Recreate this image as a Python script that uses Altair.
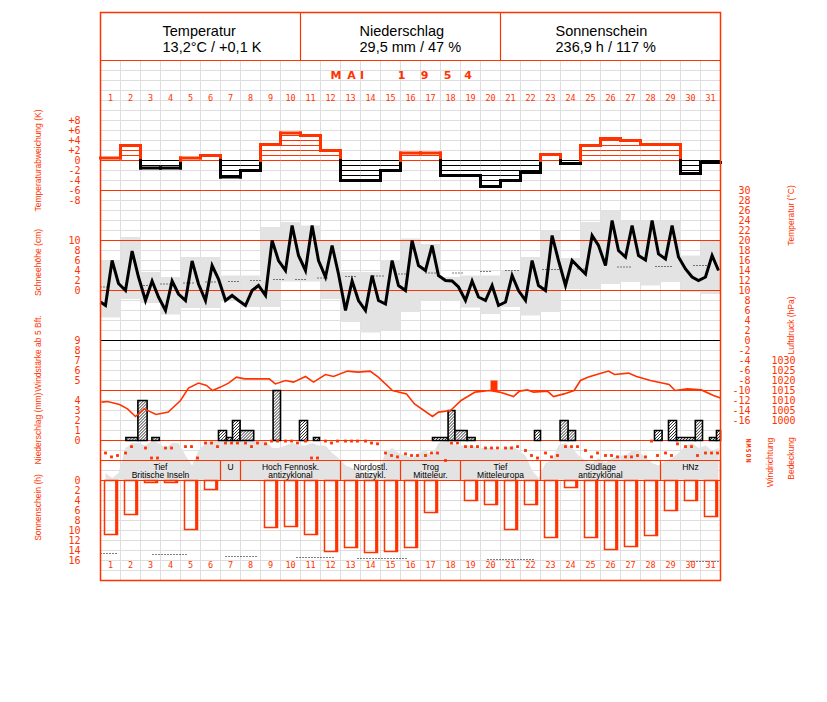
import altair as alt
import pandas as pd

RED = "#ff3300"
GRID = "#dedede"
SHADE = "#e3e3e3"
SANS = "Liberation Sans, Arial, sans-serif"
NARROW = "Liberation Sans Narrow, Liberation Sans, sans-serif"
MONO = "DejaVu Sans Mono, Liberation Mono, monospace"

# ---------------- data ----------------
days = list(range(1, 32))

header_titles = ["Temperatur", "Niederschlag", "Sonnenschein"]
header_values = ["13,2°C / +0,1 K", "29,5 mm / 47 %", "236,9 h / 117 %"]
month_chars = ["M", "A", "I", "1", "9", "5", "4"]

# daily temperature anomaly (K)
anomaly = [0.5, 3.0, -1.5, -1.5, 0.5, 1.0, -3.3, -2.0, 3.2, 5.5, 5.0, 2.0, -4.0, -4.0, -2.0, 1.5,
           1.5, -3.0, -3.0, -5.2, -4.0, -2.4, 1.2, -0.6, 3.0, 4.4, 4.0, 3.2, 3.2, -2.6, -0.4]

# temperature at the three observation times (°C)
temp_start = 7.7
temp_7h = [7, 10, 8, 6, 8, 8, 8, 7, 9, 14, 14, 12.7, 6, 6, 7.3, 10, 14, 12, 8, 8, 7.7, 8, 10, 11,
           13.3, 15, 16.7, 16.1, 16.3, 14.3, 12.7]
temp_14h = [16, 17.9, 11.9, 11.9, 15.9, 15, 9, 10, 20, 23, 23, 19, 11.9, 13, 16, 20, 19, 11.9, 11.9,
            11, 13, 16, 21, 16, 21, 24, 23, 24, 23, 12.7, 17]
temp_21h = [11.4, 12.7, 8.7, 9.3, 11.3, 12.3, 8, 11, 16, 17, 16, 13.3, 8, 8, 11, 15, 13, 10.7, 8.7,
            7, 10, 11, 16, 14.7, 19, 18, 17, 17.3, 16.7, 12, 14]
# daily min / max (grey boxes)
tmin = [4.6, 8.3, 7.5, 5.2, 6.5, 6.5, 8.0, 6.7, 6.7, 11.8, 11.8, 8.3, 3.7, 1.6, 2.0, 5.7, 8.0, 8.0,
        6.6, 5.3, 6.7, 5.0, 5.7, 10.3, 10.3, 11.3, 11.7, 11.0, 11.7, 9.7, 9.3]
tmax = [16.0, 20.7, 13.7, 12.7, 16.7, 16.7, 13.0, 13.0, 22.7, 23.7, 23.0, 20.0, 13.7, 13.7, 16.1,
        20.4, 19.3, 12.7, 13.0, 13.0, 14.0, 16.7, 22.0, 16.5, 23.7, 26.0, 24.0, 24.0, 24.0, 17.0, 20.0]
# dotted normal temperature
norm_t0 = [0.0, 2.0, 3.0, 4.15, 5.25, 6.4, 7.5, 8.65, 9.75, 10.85, 12.25, 13.65, 14.9, 16.25, 17.6,
           19.0, 20.25, 22.1, 23.85, 25.85, 27.75, 29.65]
norm_t1 = [0.4, 2.5, 3.5, 4.65, 5.75, 6.9, 8.0, 9.15, 10.25, 11.35, 12.75, 14.15, 15.5, 16.75, 18.15,
           19.5, 21.0, 22.9, 24.35, 26.5, 28.6, 30.4]
norm_T = [10.7, 11.0, 11.3, 11.5, 11.7, 11.8, 12.0, 12.2, 12.2, 12.5, 12.8, 12.9, 13.3, 13.5, 13.5,
          13.8, 14.0, 14.2, 14.3, 14.7, 14.8, 15.0]

# air pressure (hPa)
pres_t = [0.05, 0.35, 0.95, 1.35, 1.75, 2.18, 2.78, 3.39, 4.0, 4.4, 4.9, 5.3, 5.6, 6.0, 6.4, 6.8, 7.2,
          8.44, 8.74, 9.25, 9.65, 10.25, 10.65, 11.25, 11.65, 12.35, 12.88, 13.48, 13.89, 14.6, 15.3,
          15.7, 16.6, 16.9, 17.5, 18.03, 18.73, 19.45, 19.95, 20.65, 20.95, 21.35, 21.65, 22.35, 22.65,
          23.18, 23.68, 24.0, 24.4, 24.9, 25.4, 25.7, 26.4, 26.8, 27.5, 28.43, 28.73, 29.34, 30.04,
          30.65, 31.0]
pres_hpa = [1009.2, 1009.5, 1008, 1005.8, 1002, 1005.8, 1003, 1004.2, 1010, 1016.2, 1018.7, 1017.5,
            1015, 1016.7, 1018.7, 1021.7, 1020.8, 1020.8, 1018.3, 1020, 1019.2, 1022, 1019.2, 1023,
            1022, 1024.7, 1024.2, 1024.7, 1021.7, 1015, 1013.3, 1008.3, 1002, 1004.2, 1005, 1010,
            1014.2, 1015, 1014.2, 1012, 1014.7, 1015.3, 1014.2, 1014.7, 1012, 1013.3, 1015, 1020,
            1021.7, 1023.3, 1024.7, 1023, 1023.7, 1022, 1020, 1018, 1015, 1015.8, 1015.3, 1012.5,
            1011.2]

# wind force >= 5 Bft
wind_t0 = [19.5]
wind_t1 = [19.85]
wind_bft = [5]

# precipitation periods (day units) and amount (mm)
prec_t0 = [1.27, 1.87, 2.57, 5.9, 6.3, 6.6, 6.98, 8.63, 9.95, 10.65, 16.6, 17.38, 17.72, 18.33, 21.7,
           22.98, 23.38, 27.7, 28.4, 28.8, 29.74, 30.45, 30.8]
prec_t1 = [1.87, 2.33, 2.94, 6.3, 6.6, 6.98, 7.66, 9.0, 10.35, 10.95, 17.38, 17.72, 18.33, 18.73, 22.0,
           23.38, 23.75, 28.08, 28.8, 29.74, 30.1, 30.8, 31.0]
prec_mm = [0.3, 4.0, 0.3, 1.0, 0.3, 2.0, 1.0, 5.0, 2.0, 0.3, 0.3, 3.0, 1.0, 0.3, 1.0, 2.0, 1.0, 1.0,
           2.0, 0.3, 2.0, 0.3, 1.0]

# wind direction (degrees) at the three observation times, None = calm
wdir_7h = [135, 135, 225, 225, 250, 315, 315, 315, 300, 350, 350, 350, 350, 350, 135, 120, 90, 0, 250,
           225, 225, 180, 135, 250, 180, 90, 65, 65, 135, 250, 135]
wdir_14h = [65, 250, 45, 225, 250, 315, 315, 250, 350, 350, 45, 315, 350, 315, 90, 90, 135, 315, 250,
            225, 225, 90, 65, 250, 65, 90, 65, 350, 90, 250, 135]
wdir_21h = [90, None, 45, None, 45, 250, 315, 315, 350, 315, 45, 350, 350, 300, 65, 90, 135, 315, 250,
            225, 250, 45, 90, 250, 135, 65, 90, 90, 300, 90, 135]

# cloud cover (octas) at the three observation times
cloud_7h = [1.5, 6.5, 7, 6.5, 5, 7.5, 8, 8, 8, 7, 7, 7, 3, 1.5, 5.5, 5, 6, 8, 7, 6.5, 6.5, 5, 3.5,
            7.5, 4, 3.5, 5, 4.5, 4, 7, 7]
cloud_14h = [0.5, 7.5, 8, 7.5, 3, 8, 8, 8, 6.5, 7.5, 7.5, 5.5, 2.5, 1.5, 6.5, 4.5, 5, 7.5, 7, 6.5, 7,
             2, 4, 6.5, 3.5, 4.5, 6, 3.5, 4.5, 7.5, 6]
cloud_21h = [1.5, 7.5, 7.5, 7.5, 6, 8, 8, 8, 6.5, 7, 7, 4.5, 2, 2, 5.5, 5.5, 7.5, 7, 6.5, 6, 6, 0.5,
             7, 5, 4.5, 5, 6, 3, 5.5, 6.5, 6.5]

# sunshine duration (h)
sunshine = [10.8, 6.8, 0.4, 0.4, 9.8, 1.8, 0, 0, 9.4, 9.2, 10.8, 14.2, 13.4, 14.4, 14.2, 13.4, 6.4, 0,
            4.0, 4.8, 9.8, 4.8, 11.4, 1.4, 11.4, 13.8, 13.2, 11.0, 6.0, 4.0, 7.2]
sun_pos_t0 = [0.0, 2.6, 6.25, 9.8, 12.85, 19.35, 29.5]
sun_pos_t1 = [0.9, 4.3, 7.9, 11.75, 15.4, 21.75, 31.0]
sun_pos_h = [14.6, 14.8, 15.2, 15.4, 15.6, 15.8, 16.2]

# weather patterns
pat_start = [0, 6, 7, 12, 15, 18, 22, 28]
pat_end = [6, 7, 12, 15, 18, 22, 28, 31]
pat_line1 = ["Tief", "U", "Hoch Fennosk.", "Nordostl.", "Trog", "Tief", "Südlage", "HNz"]
pat_line2 = ["Britische Inseln", "", "antizyklonal", "antizykl.", "Mitteleur.", "Mitteleuropa",
             "antizyklonal", ""]

# tick labels
anom_ticks = [8, 6, 4, 2, 0, -2, -4, -6, -8]
anom_labels = ["+8", "+6", "+4", "+2", "0", "-2", "-4", "-6", "-8"]
snow_ticks = [10, 8, 6, 4, 2, 0]
wind_ticks = [9, 8, 7, 6, 5]
prec_ticks = [4, 3, 2, 1, 0]
sun_ticks = [0, 2, 4, 6, 8, 10, 12, 14, 16]
temp_ticks = [30, 28, 26, 24, 22, 20, 18, 16, 14, 12, 10, 8, 6, 4, 2, 0, -2, -4, -6, -8, -10, -12,
              -14, -16]
pres_ticks = [1030, 1025, 1020, 1015, 1010, 1005, 1000]
dir_ticks = [360, 270, 180, 90, 0]
dir_labels = ["N", "W", "S", "O", "N"]

left_titles = ["Temperaturabweichung (K)", "Schneehöhe (cm)", "Windstärke ab 5 Bft.",
               "Niederschlag (mm)", "Sonnenschein (h)"]
right_titles = ["Temperatur (°C)", "Luftdruck (hPa)", "Windrichtung", "Bedeckung"]

# ---------------- layout (pixels inside the 620 x 568 frame) ----------------
W, H = 620, 568
OBS = [0.25, 0.58, 0.9]
XS = alt.Scale(domain=[0, 31], nice=False, zero=False)


def ysc(domain, rng):
    return alt.Scale(domain=domain, range=rng, nice=False, zero=False)


SA = ysc([-8, 8], [188, 108])        # anomaly
ST = ysc([-16, 30], [408, 178])      # temperature
SN = ysc([0, 10], [278, 228])        # snow
SW = ysc([5, 9], [368, 328])         # wind force
SP = ysc([1000, 1030], [408, 348])   # pressure
SR = ysc([0, 4], [428, 388])         # precipitation
SD = ysc([0, 360], [448, 428])       # wind direction
SC = ysc([0, 8], [468, 428])         # cloud cover
SS = ysc([0, 16], [468, 548])        # sunshine


def X(f):
    return alt.X(f, type="quantitative", scale=XS, axis=None)


def Y(f, sc):
    return alt.Y(f, type="quantitative", scale=sc, axis=None)


L = []

# grid
L.append(alt.Chart(pd.DataFrame({"t": list(range(32))})).mark_rule(color=GRID, strokeWidth=1)
         .encode(x=X("t"), y=alt.value(48), y2=alt.value(H)))
L.append(alt.Chart(pd.DataFrame({"py": list(range(48, H + 1, 10))})).mark_rule(color=GRID, strokeWidth=1)
         .encode(y=alt.Y("py:Q", scale=None), x=alt.value(0), x2=alt.value(W)))

# temperature min/max boxes
box_df = pd.DataFrame({"t0": [d - 1 for d in days], "t1": days, "lo": tmin, "hi": tmax})
L.append(alt.Chart(box_df).mark_rect(color=SHADE)
         .encode(x=X("t0"), x2="t1", y=Y("lo", ST), y2="hi"))

# cloud cover area
cl_t, cl_v = [], []
for i, d in enumerate(days):
    for o, v in zip(OBS, (cloud_7h[i], cloud_14h[i], cloud_21h[i])):
        cl_t.append(d - 1 + o)
        cl_v.append(v)
L.append(alt.Chart(pd.DataFrame({"t": cl_t, "c": cl_v})).mark_area(color=SHADE)
         .encode(x=X("t"), y=Y("c", SC), y2=alt.datum(0)))

# structural lines
L.append(alt.Chart(pd.DataFrame({"py": [48, 178, 228, 278, 378, 428, 448, 468]}))
         .mark_rule(color=RED, strokeWidth=1.2)
         .encode(y=alt.Y("py:Q", scale=None), x=alt.value(0), x2=alt.value(W)))
L.append(alt.Chart(pd.DataFrame({"py": [328]})).mark_rule(color="black", strokeWidth=1.2)
         .encode(y=alt.Y("py:Q", scale=None), x=alt.value(0), x2=alt.value(W)))

# anomaly: hatch lines and thick step outline
hat = []
for i, a in enumerate(anomaly):
    k = 0
    while k < abs(a):
        hat.append({"x0": i, "x1": i + 1, "y": k if a > 0 else -k, "col": RED if a > 0 else "black"})
        k += 1
seg = []
for i, a in enumerate(anomaly):
    seg.append({"x0": i, "x1": i + 1, "y0": a, "y1": a, "col": RED if a > 0 else "black"})
for i in range(len(anomaly) - 1):
    a, b = anomaly[i], anomaly[i + 1]
    if a * b > 0:
        seg.append({"x0": i + 1, "x1": i + 1, "y0": a, "y1": b, "col": RED if a > 0 else "black"})
    else:
        seg.append({"x0": i + 1, "x1": i + 1, "y0": a, "y1": 0, "col": RED if a > 0 else "black"})
        seg.append({"x0": i + 1, "x1": i + 1, "y0": 0, "y1": b, "col": RED if b > 0 else "black"})
L.append(alt.Chart(pd.DataFrame(hat)).mark_rule(strokeWidth=1)
         .encode(x=X("x0"), x2="x1", y=Y("y", SA), color=alt.Color("col:N", scale=None)))
L.append(alt.Chart(pd.DataFrame(seg)).mark_rule(strokeWidth=3, strokeCap="square")
         .encode(x=X("x0"), x2="x1", y=Y("y0", SA), y2="y1", color=alt.Color("col:N", scale=None)))

# temperature normals and course
L.append(alt.Chart(pd.DataFrame({"t0": norm_t0, "t1": norm_t1, "T": norm_T}))
         .mark_rule(color="black", strokeWidth=1, strokeDash=[1, 2])
         .encode(x=X("t0"), x2="t1", y=Y("T", ST)))
tt, tv = [0.0], [temp_start]
for i, d in enumerate(days):
    for o, v in zip(OBS, (temp_7h[i], temp_14h[i], temp_21h[i])):
        tt.append(d - 1 + o)
        tv.append(v)
L.append(alt.Chart(pd.DataFrame({"t": tt, "T": tv})).mark_line(color="black", strokeWidth=3)
         .encode(x=X("t"), y=Y("T", ST)))

# precipitation bars with hatching
pr_df = pd.DataFrame({"t0": prec_t0, "t1": prec_t1, "mm": prec_mm})
L.append(alt.Chart(pr_df).mark_rect(fill="white", stroke="black", strokeWidth=1.6)
         .encode(x=X("t0"), x2="t1", y=Y("mm", SR), y2=alt.datum(0)))
hrows = []
for a, b, h in zip(prec_t0, prec_t1, prec_mm):
    X0, X1, HH = a * 20, b * 20, h * 10
    c = X0 - HH
    while c < X1:
        lo, hi = max(X0, c), min(X1, c + HH)
        if hi - lo > 0.3:
            hrows.append({"x0": lo / 20, "x1": hi / 20, "y0": (lo - c) / 10, "y1": (hi - c) / 10})
        c += 3
L.append(alt.Chart(pd.DataFrame(hrows)).mark_rule(color="black", strokeWidth=0.8)
         .encode(x=X("x0"), x2="x1", y=Y("y0", SR), y2="y1"))

# pressure and wind force
L.append(alt.Chart(pd.DataFrame({"t": pres_t, "p": pres_hpa})).mark_line(color=RED, strokeWidth=1.6)
         .encode(x=X("t"), y=Y("p", SP)))
L.append(alt.Chart(pd.DataFrame({"t0": wind_t0, "t1": wind_t1, "b": wind_bft})).mark_rect(color=RED)
         .encode(x=X("t0"), x2="t1", y=Y("b", SW), y2=alt.datum(4)))

# wind direction dots
wd_t, wd_v = [], []
for i, d in enumerate(days):
    for o, v in zip([0.25, 0.55, 0.85], (wdir_7h[i], wdir_14h[i], wdir_21h[i])):
        if v is not None:
            wd_t.append(d - 1 + o)
            wd_v.append(v)
L.append(alt.Chart(pd.DataFrame({"t": wd_t, "dir": wd_v})).mark_square(color=RED, size=8, opacity=1)
         .encode(x=X("t"), y=Y("dir", SD)))

# weather pattern boxes and labels
pat_df = pd.DataFrame({"t0": pat_start, "t1": pat_end, "l1": pat_line1, "l2": pat_line2})
pat_df["mid"] = (pat_df["t0"] + pat_df["t1"]) / 2
L.append(alt.Chart(pat_df).mark_rule(color=RED, strokeWidth=1.2)
         .encode(x=X("t1"), y=alt.value(448), y2=alt.value(468)))
L.append(alt.Chart(pat_df).mark_text(font=SANS, fontSize=8.5, color="black")
         .encode(x=X("mid"), y=alt.value(454), text="l1:N"))
L.append(alt.Chart(pat_df).mark_text(font=SANS, fontSize=8.5, color="black")
         .encode(x=X("mid"), y=alt.value(462.5), text="l2:N"))

# sunshine bars
sun_df = pd.DataFrame({"d": days, "h": sunshine})
sun_df = sun_df[sun_df["h"] > 0].copy()
sun_df["t0"] = sun_df["d"] - 1 + 0.2
sun_df["t1"] = sun_df["d"] - 1 + 0.85
sun_df["ts"] = sun_df["d"] - 1 + 0.73
L.append(alt.Chart(sun_df).mark_rect(fillOpacity=0, stroke=RED, strokeWidth=1.5)
         .encode(x=X("t0"), x2="t1", y=Y("h", SS), y2=alt.datum(0)))
L.append(alt.Chart(sun_df).mark_rect(color=RED)
         .encode(x=X("ts"), x2="t1", y=Y("h", SS), y2=alt.datum(0)))
L.append(alt.Chart(pd.DataFrame({"t0": sun_pos_t0, "t1": sun_pos_t1, "h": sun_pos_h}))
         .mark_rule(color="black", strokeWidth=1, strokeDash=[1, 2])
         .encode(x=X("t0"), x2="t1", y=Y("h", SS)))

# day numbers
dn = pd.DataFrame({"c": [d - 0.5 for d in days], "lab": [str(d) for d in days]})
for yy in (85, 552):
    L.append(alt.Chart(dn).mark_text(font=MONO, fontSize=8.5, color=RED)
             .encode(x=X("c"), y=alt.value(yy), text="lab:N"))


def ticks(vals, labels, sc, xpix, **kw):
    df = pd.DataFrame({"v": vals, "lab": labels})
    return (alt.Chart(df).mark_text(font=MONO, fontSize=10, color=RED, align="right", **kw)
            .encode(y=Y("v", sc), x=alt.value(xpix), text="lab:N"))


L.append(ticks(anom_ticks, anom_labels, SA, -20))
L.append(ticks(snow_ticks, [str(v) for v in snow_ticks], SN, -20))
L.append(ticks(wind_ticks, [str(v) for v in wind_ticks], SW, -20))
L.append(ticks(prec_ticks, [str(v) for v in prec_ticks], SR, -20))
L.append(ticks(sun_ticks, [str(v) for v in sun_ticks], SS, -20))
L.append(ticks(temp_ticks, [str(v) for v in temp_ticks], ST, 650))
L.append(ticks(pres_ticks, [str(v) for v in pres_ticks], SP, 695))
L.append(alt.Chart(pd.DataFrame({"v": dir_ticks, "lab": dir_labels}))
         .mark_text(font=MONO, fontSize=6.5, color=RED, angle=270, fontWeight="bold")
         .encode(y=Y("v", SD), x=alt.value(648), text="lab:N"))

# axis titles
lt = pd.DataFrame({"lab": left_titles, "py": [148, 250, 341, 416, 495]})
L.append(alt.Chart(lt).mark_text(font=NARROW, fontSize=8.5, color=RED, angle=270)
         .encode(y=alt.Y("py:Q", scale=None), x=alt.value(-63), text="lab:N"))
rt = pd.DataFrame({"lab": right_titles, "px": [690, 690, 669, 690], "py": [203, 313, 450, 446]})
L.append(alt.Chart(rt).mark_text(font=NARROW, fontSize=8.5, color=RED, angle=270)
         .encode(y=alt.Y("py:Q", scale=None), x=alt.X("px:Q", scale=None), text="lab:N"))

# month title
mt = pd.DataFrame({"ch": month_chars, "px": [235.5, 251, 261.5, 301, 324, 347, 367.5]})
L.append(alt.Chart(mt).mark_text(font="DejaVu Sans, sans-serif", fontSize=11, fontWeight="bold",
                                 color=RED)
         .encode(x=alt.X("px:Q", scale=None), y=alt.value(63), text="ch:N"))

# header
hd = pd.DataFrame({"title": header_titles, "val": header_values, "px": [62, 259, 455]})
L.append(alt.Chart(hd).mark_text(font=SANS, fontSize=14.5, color="black", align="left")
         .encode(x=alt.X("px:Q", scale=None), y=alt.value(19), text="title:N"))
L.append(alt.Chart(hd).mark_text(font=SANS, fontSize=14.5, color="black", align="left")
         .encode(x=alt.X("px:Q", scale=None), y=alt.value(35), text="val:N"))
L.append(alt.Chart(pd.DataFrame({"px": [200, 400]})).mark_rule(color=RED, strokeWidth=1.2)
         .encode(x=alt.X("px:Q", scale=None), y=alt.value(0), y2=alt.value(48)))

# frame
L.append(alt.Chart(pd.DataFrame({"a": [0]})).mark_rect(fillOpacity=0, stroke=RED, strokeWidth=1.5)
         .encode(x=alt.value(0), x2=alt.value(W), y=alt.value(0), y2=alt.value(H)))

chart = (alt.layer(*L)
         .resolve_scale(y="independent")
         .properties(width=W, height=H, autosize=alt.AutoSizeParams(type="none"),
                     padding={"left": 92.5, "top": 4.5, "right": 90, "bottom": 100})
         .configure_view(stroke=None))

chart.save("out.html", embed_options={"renderer": "svg", "actions": False})
